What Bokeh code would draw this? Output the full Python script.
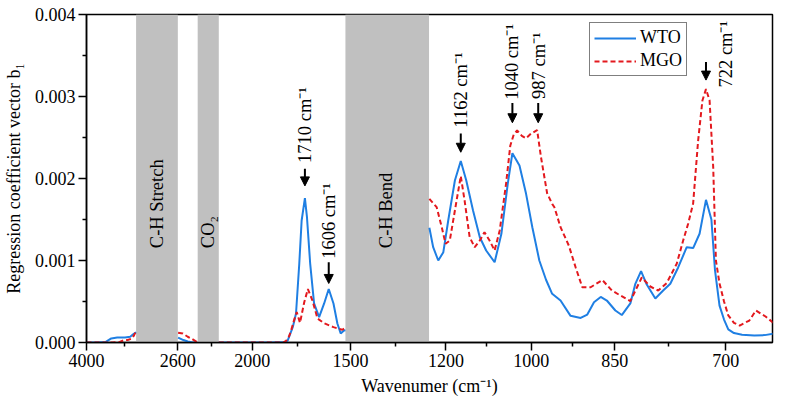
import numpy as np
from bokeh.plotting import figure
from bokeh.models import (Range1d, FixedTicker, PrintfTickFormatter, BoxAnnotation,
                          Arrow, NormalHead, Legend, LegendItem, ColumnDataSource)
from bokeh.core.properties import value
from bokeh.embed import file_html
from bokeh.resources import INLINE

# ---------------- data ----------------
wto_wn = [4000, 3830, 3710, 3620, 3530, 3410, 3330, 3285, 3240,
          2598, 2555, 2520, 2488, 2445,
          2270, 1900, 1814, 1805, 1777, 1759, 1741, 1728, 1710, 1701, 1687, 1670, 1648,
          1626, 1606, 1583, 1564, 1548, 1532, 1525,
          1252, 1240, 1224, 1208, 1194, 1177, 1162, 1149, 1133, 1117, 1102, 1082, 1066,
          1051, 1040, 1025, 1011, 998, 985, 973, 962, 947, 929, 911, 899, 887, 875, 864,
          849, 840, 828, 821, 813, 805, 793, 782, 772, 761, 749, 740, 731, 722, 716, 712,
          707, 702, 697, 690, 680, 665, 652, 640]
wto_b1 = [0, 0, 0.000005, 0.00005, 0.00006, 0.00006, 0.00007, 0.0001, 0.000125,
          0.00006, 0.00003, 0.000012, 0.000004, 0,
          0, 0, 0.000005, 0.000024, 0.000187, 0.000354, 0.000963, 0.001488, 0.00176,
          0.001528, 0.000963, 0.000476, 0.000309, 0.000476, 0.000652, 0.000476, 0.000232,
          0.00011, 0.000146, 0.00015,
          0.0014, 0.001162, 0.001, 0.001101, 0.001488, 0.001976, 0.002213, 0.001976,
          0.00161, 0.001284, 0.001122, 0.000979, 0.001326, 0.001935, 0.002309, 0.002159,
          0.001813, 0.001406, 0.001, 0.000765, 0.000594, 0.000512, 0.000325, 0.000299,
          0.000341, 0.000491, 0.000555, 0.000512, 0.00039, 0.000335, 0.000476, 0.000716,
          0.00087, 0.000707, 0.000537, 0.000634, 0.000716, 0.000915, 0.001162, 0.001152,
          0.001326, 0.00174, 0.0015, 0.00088, 0.00045, 0.00028, 0.00016, 0.000115,
          0.000095, 0.000085, 0.00009, 0.00011]

mgo_wn = [4000, 3600, 3500, 3420, 3370, 3300, 3270, 3240,
          2598, 2560, 2520, 2488, 2445,
          2270, 1900, 1830, 1814, 1800, 1786, 1770, 1755, 1737, 1714, 1697, 1677, 1655,
          1626, 1583, 1540, 1525,
          1252, 1229, 1213, 1201, 1190, 1177, 1162, 1153, 1141, 1129, 1117, 1106, 1094,
          1082, 1070, 1055, 1045, 1037, 1030, 1020, 1011, 1001, 989, 982, 971, 962, 958,
          947, 932, 920, 908, 893, 872, 855, 842, 828, 812, 800, 789, 777, 763, 754, 747,
          740, 733, 727, 722, 718, 714, 711, 707, 702, 697, 690, 683, 671, 663, 651, 640]
mgo_b1 = [0, 0, 0.000005, 0.00003, 0.00003, 0.00005, 0.00009, 0.00014,
          0.00012, 0.00011, 0.00007, 0.000045, 0.000005,
          0, 0, 0, 0.00002, 0.00006, 0.000146, 0.00027, 0.00037, 0.00024, 0.000488,
          0.000652, 0.000512, 0.000293, 0.000235, 0.000187, 0.000155, 0.00018,
          0.001752, 0.00165, 0.001406, 0.001204, 0.001244, 0.00161, 0.00203, 0.001732,
          0.001284, 0.001162, 0.001244, 0.001345, 0.001244, 0.001122, 0.001366, 0.001935,
          0.0024, 0.00254, 0.002585, 0.00252, 0.00249, 0.002545, 0.00259, 0.00226,
          0.00182, 0.00169, 0.00165, 0.001406, 0.00118, 0.000918, 0.000674, 0.000674,
          0.000762, 0.000634, 0.000573, 0.000506, 0.000793, 0.000683, 0.000634, 0.000726,
          0.00096, 0.001244, 0.001448, 0.001695, 0.002463, 0.002951, 0.00309, 0.002951,
          0.002138, 0.001, 0.00072, 0.0005, 0.00033, 0.00024, 0.000207, 0.000268,
          0.00039, 0.000317, 0.000228]

x_tick_wn = [4000, 2600, 2000, 1500, 1200, 1000, 850, 700]
x_tick_labels = ["4000", "2600", "2000", "1500", "1200", "1000", "850", "700"]
y_ticks = [0.0, 0.001, 0.002, 0.003, 0.004]

bands = [(3240, 2600, "C-H Stretch"), (2440, 2270, "CO\u2082"), (1525, 1253, "C-H Bend")]

peak_wn = [1710, 1606, 1162, 1040, 987, 722]
peak_text = ["1710 cm\u207b\u00b9", "1606 cm\u207b\u00b9", "1162 cm\u207b\u00b9",
             "1040 cm\u207b\u00b9", "987 cm\u207b\u00b9", "722 cm\u207b\u00b9"]

# ---------------- axis calibration (non-linear wavenumber axis) ----------------
AXIS_WN = [4000, 2600, 2000, 1710, 1606, 1500, 1200, 1162, 1040, 1000, 987, 850, 722, 700, 640]
AXIS_POS = [0, 92, 167, 220, 244, 266, 362, 377, 429, 448, 455, 532, 624, 644, 693]
MINOR_POS = [38, 126, 212.7, 311, 403, 490, 586]


def axis_u(wn):
    return np.interp(-np.asarray(wn, dtype=float), -np.asarray(AXIS_WN, dtype=float),
                     np.asarray(AXIS_POS, dtype=float))


def with_gaps(wn, vals):
    xs, ys = [], []
    for i, (w, v) in enumerate(zip(wn, vals)):
        if i > 0:
            mid = 0.5 * (wn[i - 1] + w)
            if any(lo < mid < hi for hi, lo, _ in bands):
                xs.append(np.nan)
                ys.append(np.nan)
        xs.append(w)
        ys.append(v)
    return axis_u(xs), np.asarray(ys, dtype=float)


FONT = "Liberation Serif"
BLUE = "#1f7fe3"
RED = "#e3191e"

p = figure(width=777, height=398, output_backend="svg", toolbar_location=None,
           x_range=Range1d(0, 691), y_range=Range1d(0, 0.004),
           min_border_left=81, min_border_right=5, min_border_top=14, min_border_bottom=56)
p.xgrid.visible = False
p.ygrid.visible = False
p.outline_line_color = "black"
p.outline_line_width = 1.5
p.background_fill_color = "white"
p.border_fill_color = "white"

# gray bands
for hi, lo, name in bands:
    p.add_layout(BoxAnnotation(left=float(axis_u(hi)), right=float(axis_u(lo)),
                               fill_color="#c0c0c0", fill_alpha=1.0, line_alpha=0,
                               level="underlay"))

band_src = ColumnDataSource(dict(
    x=[float(axis_u((hi + lo) / 2.0)) for hi, lo, _ in bands],
    y=[0.00115] * len(bands),
    t=[name for _, _, name in bands]))
p.text(x="x", y="y", text="t", source=band_src, angle=np.pi / 2,
       text_align="left", text_baseline="middle",
       text_font=value(FONT), text_font_size="18.5px", text_color="black")

# curves
wx, wy = with_gaps(wto_wn, wto_b1)
mx, my = with_gaps(mgo_wn, mgo_b1)
r_wto = p.line(wx, wy, line_color=BLUE, line_width=2)
r_mgo = p.line(mx, my, line_color=RED, line_width=2, line_dash="5 3")

# peak arrows and labels
arrow_top = [0.00212, 0.00098, 0.00255, 0.00292, 0.00292, 0.00342]
arrow_bot = [0.00191, 0.00072, 0.00232, 0.00268, 0.00268, 0.00320]
label_base = [0.00219, 0.00102, 0.00262, 0.00296, 0.00297, 0.00311]
label_dx = [0, 0, 0, 0, 1, 20]

for wn, yt, yb in zip(peak_wn, arrow_top, arrow_bot):
    xu = float(axis_u(wn))
    p.add_layout(Arrow(x_start=xu, y_start=yt, x_end=xu, y_end=yb,
                       line_color="black", line_width=2,
                       end=NormalHead(size=9, fill_color="black", line_color="black",
                                      line_width=1)))

pk_src = ColumnDataSource(dict(x=list(axis_u(peak_wn)), y=label_base, t=peak_text,
                               dx=label_dx))
p.text(x="x", y="y", text="t", x_offset="dx", source=pk_src, angle=np.pi / 2,
       text_align="left", text_baseline="middle",
       text_font=value(FONT), text_font_size="18.5px", text_color="black")

# axes
xa = p.xaxis[0]
xa.ticker = FixedTicker(ticks=[float(v) for v in axis_u(x_tick_wn)], minor_ticks=MINOR_POS)
xa.major_label_overrides = {float(u): lab for u, lab in zip(axis_u(x_tick_wn), x_tick_labels)}
xa.axis_label = "Wavenumer (cm\u207b\u00b9)"

ya = p.yaxis[0]
ya.ticker = FixedTicker(ticks=y_ticks,
                        minor_ticks=[0.0005, 0.0015, 0.0025, 0.0035])
ya.formatter = PrintfTickFormatter(format="%.3f")
ya.axis_label = "Regression coefficient vector b\u2081"

for ax in (xa, ya):
    ax.axis_line_color = "black"
    ax.axis_line_width = 1.5
    ax.major_tick_line_color = "black"
    ax.major_tick_line_width = 1.5
    ax.minor_tick_line_color = "black"
    ax.minor_tick_line_width = 1.5
    ax.major_tick_out = 8
    ax.major_tick_in = 0
    ax.minor_tick_out = 4
    ax.minor_tick_in = 0
    ax.major_label_text_font = FONT
    ax.major_label_text_font_size = "18px"
    ax.major_label_text_color = "black"
    ax.major_label_standoff = 3
    ax.axis_label_text_font = FONT
    ax.axis_label_text_font_size = "18px"
    ax.axis_label_text_font_style = "normal"
    ax.axis_label_text_color = "black"
xa.axis_label_standoff = 6
ya.axis_label_standoff = 8

legend = Legend(items=[LegendItem(label="WTO", renderers=[r_wto]),
                       LegendItem(label="MGO", renderers=[r_mgo])],
                location=(503, 266))
legend.border_line_color = "black"
legend.border_line_width = 1.5
legend.background_fill_color = "white"
legend.background_fill_alpha = 1.0
legend.label_text_font = FONT
legend.label_text_font_size = "18px"
legend.label_text_color = "black"
legend.glyph_width = 42
legend.glyph_height = 20
legend.label_height = 20
legend.label_standoff = 4
legend.padding = 4
legend.spacing = 2
legend.margin = 0
p.add_layout(legend)

open("out.html", "w").write(file_html(p, INLINE))
